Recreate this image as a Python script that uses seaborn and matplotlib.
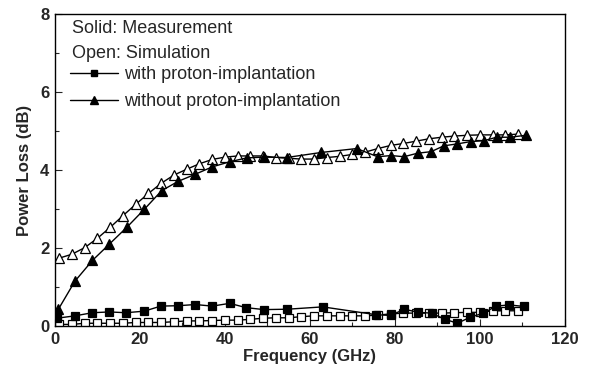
import matplotlib
matplotlib.use("Agg")
import matplotlib.pyplot as plt
import seaborn as sns
import numpy as np
from matplotlib.lines import Line2D
from matplotlib.ticker import MultipleLocator

# Simulation (open markers), frequencies 1,4,...,109 GHz
sim_freq = [1, 4, 7, 10, 13, 16, 19, 22, 25, 28, 31, 34, 37, 40, 43, 46, 49, 52, 55,
            58, 61, 64, 67, 70, 73, 76, 79, 82, 85, 88, 91, 94, 97, 100, 103, 106, 109]
sim_without = [1.74, 1.84, 2.01, 2.25, 2.53, 2.83, 3.12, 3.40, 3.66, 3.87, 4.02, 4.16, 4.27,
               4.33, 4.36, 4.36, 4.36, 4.32, 4.30, 4.28, 4.28, 4.32, 4.35, 4.40, 4.46, 4.55,
               4.63, 4.68, 4.74, 4.80, 4.84, 4.87, 4.89, 4.90, 4.90, 4.90, 4.92]
sim_with = [0.04, 0.04, 0.07, 0.07, 0.07, 0.07, 0.09, 0.09, 0.09, 0.11, 0.13, 0.13, 0.14,
            0.15, 0.15, 0.17, 0.20, 0.21, 0.21, 0.24, 0.26, 0.26, 0.26, 0.26, 0.26, 0.28,
            0.31, 0.33, 0.33, 0.33, 0.33, 0.34, 0.35, 0.35, 0.39, 0.39, 0.39]

# Measurement (solid markers)
meas_without_freq = [0.8, 4.7, 8.8, 12.8, 16.9, 21.0, 25.1, 29.0, 33.0, 37.0, 41.1, 45.1, 49.2,
                     54.5, 62.7, 71.0, 75.9, 79.1, 82.1, 85.3, 88.5, 91.5, 94.7, 97.9, 100.9,
                     103.9, 107.1, 110.8]
meas_without = [0.43, 1.15, 1.68, 2.10, 2.53, 2.99, 3.47, 3.71, 3.89, 4.08, 4.21, 4.31, 4.33,
                4.32, 4.45, 4.55, 4.34, 4.37, 4.34, 4.43, 4.47, 4.62, 4.67, 4.73, 4.75,
                4.84, 4.84, 4.89]
meas_with_freq = [0.5, 4.7, 8.8, 12.8, 16.7, 21.0, 24.9, 29.0, 33.0, 37.0, 41.1, 45.0, 49.2,
                  54.7, 63.0, 75.5, 79.0, 82.2, 85.5, 88.6, 91.8, 94.7, 97.6, 100.8, 103.8,
                  106.9, 110.4]
meas_with = [0.20, 0.26, 0.34, 0.36, 0.34, 0.38, 0.51, 0.52, 0.55, 0.51, 0.58, 0.47, 0.42,
             0.43, 0.49, 0.29, 0.27, 0.43, 0.35, 0.33, 0.17, 0.07, 0.22, 0.33, 0.51,
             0.54, 0.50]

legend_labels = ["with proton-implantation", "without proton-implantation"]

sns.set_style("ticks")
plt.rcParams['font.family'] = ['Liberation Sans', 'DejaVu Sans']

fig = plt.figure(figsize=(5.9, 3.78), dpi=100)
ax = fig.add_axes([0.0932, 0.1376, 0.8644, 0.8254])

ms = 5.8
common = dict(color="black", linewidth=1.0, markeredgecolor="black", markeredgewidth=0.9)

sns.lineplot(x=sim_freq, y=sim_without, ax=ax, marker="^", markersize=ms + 1.2,
             markerfacecolor="white", **common)
sns.lineplot(x=meas_without_freq, y=meas_without, ax=ax, marker="^", markersize=ms + 1.2,
             markerfacecolor="black", **common)
sns.lineplot(x=sim_freq, y=sim_with, ax=ax, marker="s", markersize=ms,
             markerfacecolor="white", **common)
sns.lineplot(x=meas_with_freq, y=meas_with, ax=ax, marker="s", markersize=ms,
             markerfacecolor="black", **common)

ax.set_xlim(0, 120)
ax.set_ylim(0, 8)
ax.xaxis.set_major_locator(MultipleLocator(20))
ax.xaxis.set_minor_locator(MultipleLocator(10))
ax.yaxis.set_major_locator(MultipleLocator(2))
ax.yaxis.set_minor_locator(MultipleLocator(1))
ax.tick_params(which="both", direction="in", top=False, right=False, width=0.8)
ax.tick_params(which="major", length=5, labelsize=12, pad=4)
ax.tick_params(which="minor", length=3)
for lab in ax.get_xticklabels() + ax.get_yticklabels():
    lab.set_fontweight("bold")
for sp in ax.spines.values():
    sp.set_visible(True)
    sp.set_linewidth(1.0)
    sp.set_color("black")

ax.set_xlabel("Frequency (GHz)", fontsize=12, fontweight="bold", labelpad=2)
ax.set_ylabel("Power Loss (dB)", fontsize=12, fontweight="bold", labelpad=6)

ax.text(0.033, 0.954, "Solid: Measurement", transform=ax.transAxes, fontsize=13,
        va="center", ha="left")
ax.text(0.033, 0.874, "Open: Simulation", transform=ax.transAxes, fontsize=13,
        va="center", ha="left")

handles = [Line2D([], [], color="black", lw=1.0, marker="s", markersize=5.0,
                  markerfacecolor="black", markeredgecolor="black"),
           Line2D([], [], color="black", lw=1.0, marker="^", markersize=6.0,
                  markerfacecolor="black", markeredgecolor="black")]
ax.legend(handles, legend_labels, loc="upper left", bbox_to_anchor=(0.029, 0.832),
          frameon=False, fontsize=13, handlelength=2.67, handletextpad=0.33,
          labelspacing=0.55, borderaxespad=0.0, borderpad=0.0)

fig.savefig("out.png", dpi=100)
